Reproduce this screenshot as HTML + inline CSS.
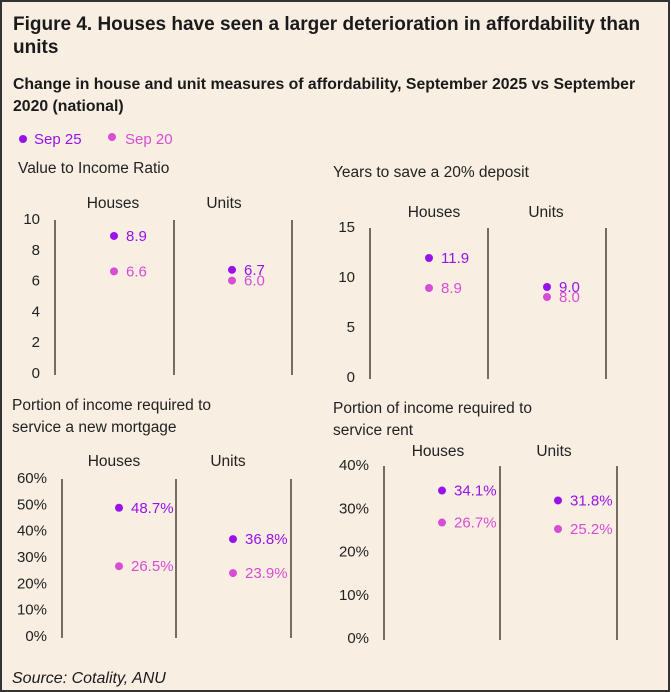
<!DOCTYPE html>
<html><head><meta charset="utf-8"><style>
body{margin:0;background:#fff;}
svg{display:block;font-family:"Liberation Sans",sans-serif;}
</style></head><body>
<svg width="671" height="692" viewBox="0 0 671 692" id="fig">
<rect x="1" y="1" width="668" height="690" fill="#f8eee2" stroke="#333" stroke-width="2"/>
<text x="13" y="30" font-size="19" font-weight="bold" fill="#1a1a1a">Figure 4. Houses have seen a larger deterioration in affordability than</text>
<text x="13" y="53" font-size="19" font-weight="bold" fill="#1a1a1a">units</text>
<text x="13" y="89" font-size="15.8" font-weight="bold" fill="#1a1a1a">Change in house and unit measures of affordability, September 2025 vs September</text>
<text x="13" y="111" font-size="15.8" font-weight="bold" fill="#1a1a1a">2020 (national)</text>
<g>
<circle cx="23" cy="139" r="4" fill="#9a12ea"/>
<text x="34" y="144" font-size="15" fill="#9a12ea">Sep 25</text>
<circle cx="112" cy="137" r="4" fill="#d84dd4"/>
<text x="125" y="144" font-size="15" fill="#d84dd4">Sep 20</text>
</g>
<g id="charts"></g>
<text x="12" y="683" font-size="16" font-style="italic" fill="#1a1a1a">Source: Cotality, ANU</text>
</svg>
<script>
const categories = ["Houses","Units"];
const vtiSep25 = [8.9, 6.7];
const vtiSep20 = [6.6, 6.0];
const vtiTicks = [0,2,4,6,8,10];
const depSep25 = [11.9, 9.0];
const depSep20 = [8.9, 8.0];
const depTicks = [0,5,10,15];
const mortSep25 = [48.7, 36.8];
const mortSep20 = [26.5, 23.9];
const mortTicks = [0,10,20,30,40,50,60];
const rentSep25 = [34.1, 31.8];
const rentSep20 = [26.7, 25.2];
const rentTicks = [0,10,20,30,40];

const NS="http://www.w3.org/2000/svg";
const root=document.getElementById('charts');
function mk(tag,attrs,parent){const e=document.createElementNS(NS,tag);for(const k in attrs)e.setAttribute(k,attrs[k]);(parent||root).appendChild(e);return e;}

const panels=[
 {key:'value-income',title:["Value to Income Ratio"],tx:18,ty:173,lines:[55,174,292],catX:[113,224],ptX:[114,232],top:219,bot:373,max:10,ticks:vtiTicks,s25:vtiSep25,s20:vtiSep20,lblX:40,fmt:v=>v.toFixed(0),val:v=>v.toFixed(1),catY:208},
 {key:'deposit-years',title:["Years to save a 20% deposit"],tx:333,ty:177,lines:[370,488,606],catX:[434,546],ptX:[429,547],top:227,bot:377,max:15,ticks:depTicks,s25:depSep25,s20:depSep20,lblX:355,fmt:v=>v.toFixed(0),val:v=>v.toFixed(1),catY:217},
 {key:'mortgage-share',title:["Portion of  income required to","service a new mortgage"],tx:12,ty:410,lines:[62,176,291],catX:[114,228],ptX:[119,233],top:478,bot:636,max:60,ticks:mortTicks,s25:mortSep25,s20:mortSep20,lblX:47,fmt:v=>v+'%',val:v=>v.toFixed(1)+'%',catY:466},
 {key:'rent-share',title:["Portion of  income required to","service rent"],tx:333,ty:413,lines:[384,500,617],catX:[438,554],ptX:[442,558],top:465,bot:638,max:40,ticks:rentTicks,s25:rentSep25,s20:rentSep20,lblX:369,fmt:v=>v+'%',val:v=>v.toFixed(1)+'%',catY:456}
];
panels.forEach(p=>{
 const g=mk('g',{});
 
 
 p.title.forEach((t,i)=>{const e=mk('text',{x:p.tx,y:p.ty+i*22,'font-size':15.5,fill:'#222','xml:space':'preserve'},g);e.textContent=t;
  
  });
 const y=v=>p.bot-(v/p.max)*(p.bot-p.top);
 p.ticks.forEach(t=>{const e=mk('text',{x:p.lblX,y:y(t)+5,'font-size':15,fill:'#222','text-anchor':'end'},g);e.textContent=p.fmt(t);
  
  });
 p.lines.forEach(lx=>{const l=mk('line',{x1:lx,x2:lx,y1:p.top+1,y2:p.bot+2,stroke:'#4a4038','stroke-width':1.5},g);
  
  });
 categories.forEach((c,i)=>{
  const ct=mk('text',{x:p.catX[i],y:p.catY,'font-size':15.5,fill:'#222','text-anchor':'middle'},g);ct.textContent=c;
  
  
  const px=p.ptX[i];
  [[p.s25[i],'#9a12ea','sep25'],[p.s20[i],'#d84dd4','sep20']].forEach(([v,col,n])=>{
   const cy=y(v);
   const d=mk('circle',{cx:px,cy:cy,r:4,fill:col},g);
   
   
   const lt=mk('text',{x:px+12,y:cy+5,'font-size':15,fill:col},g);lt.textContent=p.val(v);
   
   
  });
 });
});
</script>
</body></html>
